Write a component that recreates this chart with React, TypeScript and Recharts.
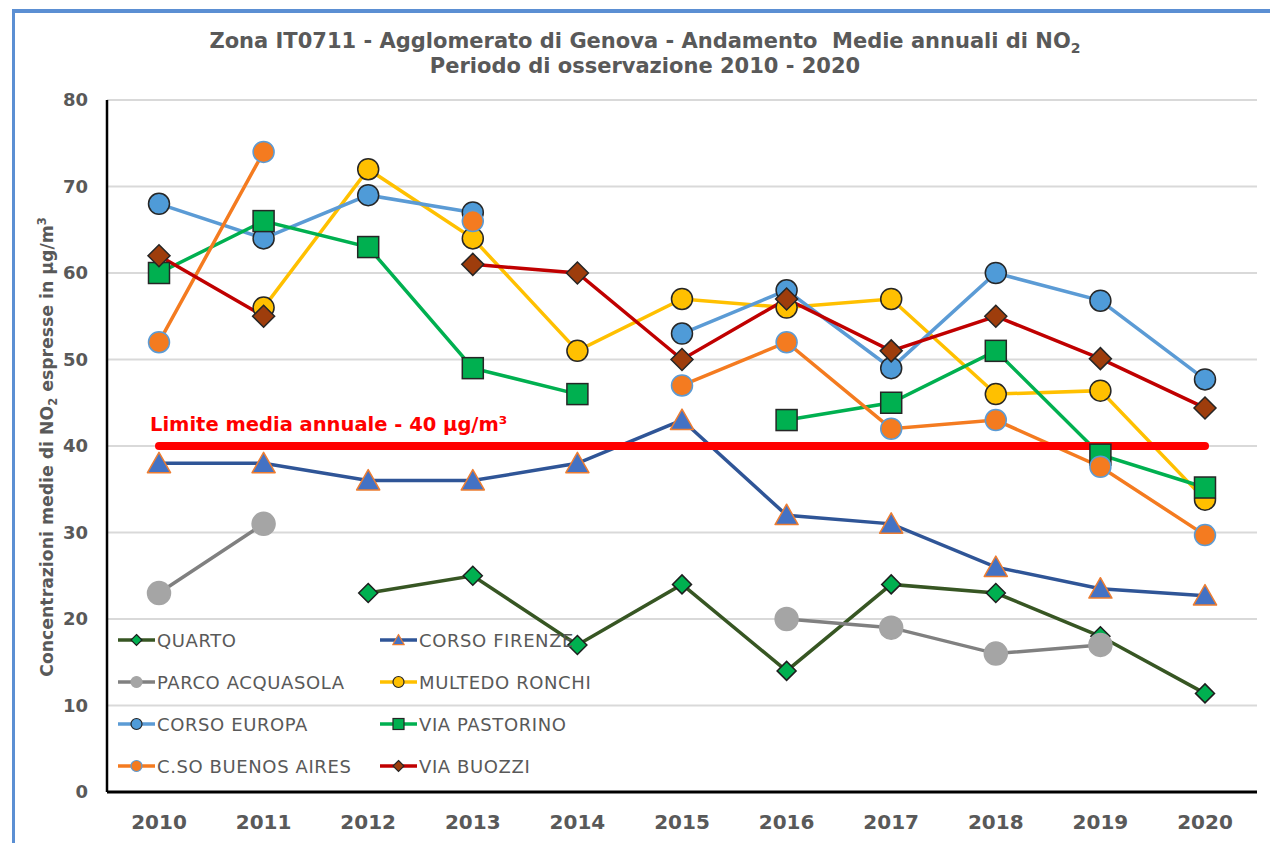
import React from 'react';
import { LineChart, Line, XAxis, YAxis, CartesianGrid, Legend, ReferenceLine } from 'recharts';

// Annual NO2 means per station, µg/m³ (null = no measurement)
const years = ['2010', '2011', '2012', '2013', '2014', '2015', '2016', '2017', '2018', '2019', '2020'];
const quarto = [null, null, 23, 25, 17, 24, 14, 24, 23, 18, 11.4];
const corsoFirenze = [38, 38, 36, 36, 38, 43, 32, 31, 26, 23.5, 22.7];
const parcoAcquasola = [23, 31, null, null, null, null, 20, 19, 16, 17, null];
const multedoRonchi = [null, 56, 72, 64, 51, 57, 56, 57, 46, 46.4, 33.8];
const corsoEuropa = [68, 64, 69, 67, null, 53, 58, 49, 60, 56.8, 47.7];
const viaPastorino = [60, 66, 63, 49, 46, null, 43, 45, 51, 39, 35.2];
const buenosAires = [52, 74, null, 66, null, 47, 52, 42, 43, 37.6, 29.7];
const viaBuozzi = [62, 55, null, 61, 60, 50, 57, 51, 55, 50.1, 44.4];
const limitValues = [40, 40, 40, 40, 40, 40, 40, 40, 40, 40, 40];
const yTicks = [0, 10, 20, 30, 40, 50, 60, 70, 80];

type Shape = 'circle' | 'square' | 'diamond' | 'triangle';

interface SeriesStyle {
  key: string;
  name: string;
  values: (number | null)[];
  line: string;
  shape: Shape;
  size: number;
  fill: string;
  stroke: string;
}

const SERIES: SeriesStyle[] = [
  { key: 'quarto', name: 'QUARTO', values: quarto, line: '#375623', shape: 'diamond', size: 9.5, fill: '#00B050', stroke: '#1E1E1E' },
  { key: 'firenze', name: 'CORSO FIRENZE', values: corsoFirenze, line: '#2F5597', shape: 'triangle', size: 11, fill: '#4472C4', stroke: '#ED7D31' },
  { key: 'acquasola', name: 'PARCO ACQUASOLA', values: parcoAcquasola, line: '#808080', shape: 'circle', size: 11.5, fill: '#A5A5A5', stroke: '#A5A5A5' },
  { key: 'multedo', name: 'MULTEDO RONCHI', values: multedoRonchi, line: '#FFC000', shape: 'circle', size: 10.5, fill: '#FFC000', stroke: '#262626' },
  { key: 'europa', name: 'CORSO EUROPA', values: corsoEuropa, line: '#5B9BD5', shape: 'circle', size: 10.5, fill: '#4F9BD8', stroke: '#262626' },
  { key: 'pastorino', name: 'VIA PASTORINO', values: viaPastorino, line: '#00B050', shape: 'square', size: 10.5, fill: '#00B050', stroke: '#262626' },
  { key: 'buenos', name: 'C.SO BUENOS AIRES', values: buenosAires, line: '#F47B20', shape: 'circle', size: 10.5, fill: '#F47B20', stroke: '#5B9BD5' },
  { key: 'buozzi', name: 'VIA BUOZZI', values: viaBuozzi, line: '#C00000', shape: 'diamond', size: 11, fill: '#9E3D0C', stroke: '#262626' },
];

const chartData = years.map((year, i) => {
  const row: Record<string, string | number | null> = { year, limit: limitValues[i] };
  SERIES.forEach((s) => { row[s.key] = s.values[i]; });
  return row;
});

const FONT = '"DejaVu Sans", Verdana, sans-serif';
const GREY_TEXT = '#595959';

const drawMarker = (shape: Shape, cx: number, cy: number, size: number, fill: string, stroke: string, sw: number, key?: string) => {
  switch (shape) {
    case 'square':
      return <rect key={key} x={cx - size} y={cy - size} width={size * 2} height={size * 2} fill={fill} stroke={stroke} strokeWidth={sw} />;
    case 'diamond':
      return <polygon key={key} points={`${cx},${cy - size} ${cx + size},${cy} ${cx},${cy + size} ${cx - size},${cy}`} fill={fill} stroke={stroke} strokeWidth={sw} />;
    case 'triangle':
      return <polygon key={key} points={`${cx},${cy - size} ${cx + size * 1.05},${cy + size * 0.85} ${cx - size * 1.05},${cy + size * 0.85}`} fill={fill} stroke={stroke} strokeWidth={sw} strokeLinejoin="round" />;
    default:
      return <circle key={key} cx={cx} cy={cy} r={size} fill={fill} stroke={stroke} strokeWidth={sw} />;
  }
};

const makeDot = (s: SeriesStyle) => (props: any) => {
  const { cx, cy, index, value } = props;
  const key = `${s.key}-dot-${index}`;
  if (cx == null || cy == null || value == null || Number.isNaN(cy)) return <g key={key} />;
  return drawMarker(s.shape, cx, cy, s.size, s.fill, s.stroke, 1.5, key);
};

const LimitLabel = (props: any) => {
  const vb = props.viewBox || { x: 107, y: 446 };
  return (
    <text x={vb.x + 43} y={vb.y - 15} fill="#FF0000" fontSize={19.5} fontWeight="bold" fontFamily={FONT}>
      Limite media annuale - 40 µg/m³
    </text>
  );
};

// keep the series order of the original legend (row by row, two columns)
const renderLegend = (props: any) => {
  const shown = new Set(((props.payload || []) as Array<{ value: string }>).map((p) => p.value));
  const items = SERIES.filter((s) => shown.has(s.name));
  return (
    <div style={{ display: 'grid', gridTemplateColumns: '262px 262px', gridAutoRows: '42px' }}>
      {items.map((s) => (
        <div key={s.key} style={{ display: 'flex', alignItems: 'center' }}>
          <svg width={40} height={20} style={{ flex: 'none' }}>
            <line x1={1} x2={38} y1={10} y2={10} stroke={s.line} strokeWidth={3.5} />
            {drawMarker(s.shape, 19.5, 10, 5.5, s.fill, s.stroke, 1.2)}
          </svg>
          <span style={{ fontFamily: FONT, fontSize: 18, color: GREY_TEXT, letterSpacing: 0.6, whiteSpace: 'nowrap' }}>{s.name}</span>
        </div>
      ))}
    </div>
  );
};

export default function App() {
  return (
    <div style={{ position: 'absolute', left: 0, top: 0, width: 1270, height: 843, background: '#fff', overflow: 'hidden' }}>
      {/* frame of the original screenshot */}
      <div style={{ position: 'absolute', left: 12, top: 9, right: -10, bottom: -10, borderTop: '4px solid #5B8FD3', borderLeft: '3px solid #5B8FD3' }} />

      <div style={{ position: 'absolute', left: 20, top: 29, width: 1250, textAlign: 'center', fontFamily: FONT, fontWeight: 'bold', fontSize: 21, lineHeight: '25px', color: GREY_TEXT }}>
        <div>Zona IT0711 - Agglomerato di Genova - Andamento&nbsp; Medie annuali di NO<sub style={{ fontSize: 14, lineHeight: 0 }}>2</sub></div>
        <div>Periodo di osservazione 2010 - 2020</div>
      </div>

      <div style={{ position: 'absolute', left: 47, top: 447, transform: 'translate(-50%, -50%) rotate(-90deg)', whiteSpace: 'nowrap', fontFamily: FONT, fontWeight: 'bold', fontSize: 17.3, color: GREY_TEXT }}>
        Concentrazioni medie di NO<sub style={{ fontSize: 11.5, lineHeight: 0 }}>2</sub> espresse in µg/m<sup style={{ fontSize: 11.5, lineHeight: 0 }}>3</sup>
      </div>

      <LineChart width={1270} height={843} data={chartData} margin={{ top: 100, right: 13, bottom: 0, left: 0 }} style={{ position: 'absolute', left: 0, top: 0 }}>
        <CartesianGrid vertical={false} stroke="#D9D9D9" strokeWidth={2} />
        <XAxis
          dataKey="year"
          height={51}
          padding={{ left: 52, right: 52 }}
          axisLine={{ stroke: '#000', strokeWidth: 3 }}
          tickLine={false}
          tickSize={0}
          tickMargin={23}
          tick={{ fill: GREY_TEXT, fontSize: 20, fontWeight: 'bold', fontFamily: FONT }}
        />
        <YAxis
          width={107}
          domain={[0, 80]}
          ticks={yTicks}
          interval={0}
          axisLine={{ stroke: '#000', strokeWidth: 2.5 }}
          tickLine={false}
          tickSize={0}
          tickMargin={19}
          tick={{ fill: GREY_TEXT, fontSize: 18, fontWeight: 'bold', fontFamily: FONT }}
        />
        {SERIES.map((s) => (
          <Line
            key={s.key}
            type="linear"
            dataKey={s.key}
            name={s.name}
            stroke={s.line}
            strokeWidth={3.5}
            dot={makeDot(s)}
            activeDot={false}
            connectNulls={false}
            isAnimationActive={false}
          />
        ))}
        <Line
          type="linear"
          dataKey="limit"
          name="limit"
          stroke="#FF0000"
          strokeWidth={8}
          strokeLinecap="round"
          dot={false}
          activeDot={false}
          legendType="none"
          isAnimationActive={false}
        />
        <ReferenceLine y={40} stroke="transparent" label={<LimitLabel />} />
        <Legend
          layout="vertical"
          align="center"
          verticalAlign="middle"
          content={renderLegend}
          wrapperStyle={{ position: 'absolute', left: 117, top: 619, width: 530, height: 170 }}
        />
      </LineChart>
    </div>
  );
}
